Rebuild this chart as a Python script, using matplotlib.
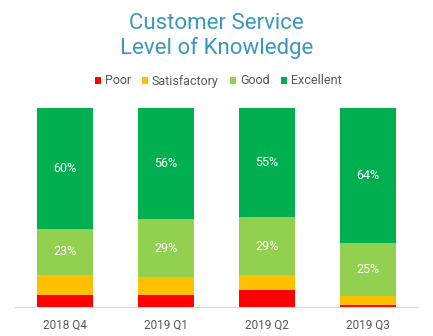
import matplotlib
matplotlib.use("Agg")
import matplotlib.pyplot as plt
import numpy as np

categories = ["2018 Q4", "2019 Q1", "2019 Q2", "2019 Q3"]
poor = [6, 6, 8.5, 1]
satisfactory = [10, 9, 7.5, 4]
good = [23, 29, 29, 25]
excellent = [60, 56, 55, 64]
series_names = ["Poor", "Satisfactory", "Good", "Excellent"]
colors = ["#FF0000", "#FFC000", "#92D050", "#00B050"]
labelled = [False, False, True, True]

plt.rcParams['font.family'] = ['Roboto', 'DejaVu Sans']

fig = plt.figure(figsize=(4.33, 3.36), dpi=100)
ax = fig.add_axes([15/433, 29/336, 403/433, 199/336])

data = np.array([poor, satisfactory, good, excellent], dtype=float)
totals = data.sum(axis=0)
norm = data / totals * 100
x = np.arange(len(categories))
bottom = np.zeros(len(categories))
handles = []
for i, name in enumerate(series_names):
    bars = ax.bar(x, norm[i], bottom=bottom, width=0.555, color=colors[i],
                  label=name, linewidth=0)
    handles.append(bars)
    if labelled[i]:
        for j in range(len(categories)):
            ax.text(x[j], bottom[j] + norm[i][j] / 2, f"{data[i][j]:.0f}%",
                    ha="center", va="center", color="white", fontsize=9)
    bottom += norm[i]

ax.set_xlim(-0.5, len(categories) - 0.5)
ax.set_ylim(0, 100)
ax.set_yticks([])
ax.set_xticks(x)
ax.set_xticklabels(categories, color="#595959", fontsize=8.5)
ax.tick_params(axis="x", length=0, pad=8)
for s in ["top", "left", "right"]:
    ax.spines[s].set_visible(False)
ax.spines["bottom"].set_color("#D9D9D9")

fig.text(216.5/433, 1 - 36/336, "Customer Service\nLevel of Knowledge",
         ha="center", va="center", color="#3A97BE", fontsize=16,
         linespacing=1.2)

fig.legend(handles=handles, labels=series_names, loc="center",
           bbox_to_anchor=(218/433, 1 - 81/336), ncol=4, frameon=False,
           fontsize=9, handlelength=0.5, handleheight=0.5, handletextpad=0.3,
           columnspacing=0.9, labelcolor="#595959")

fig.savefig("out.png", dpi=100)
